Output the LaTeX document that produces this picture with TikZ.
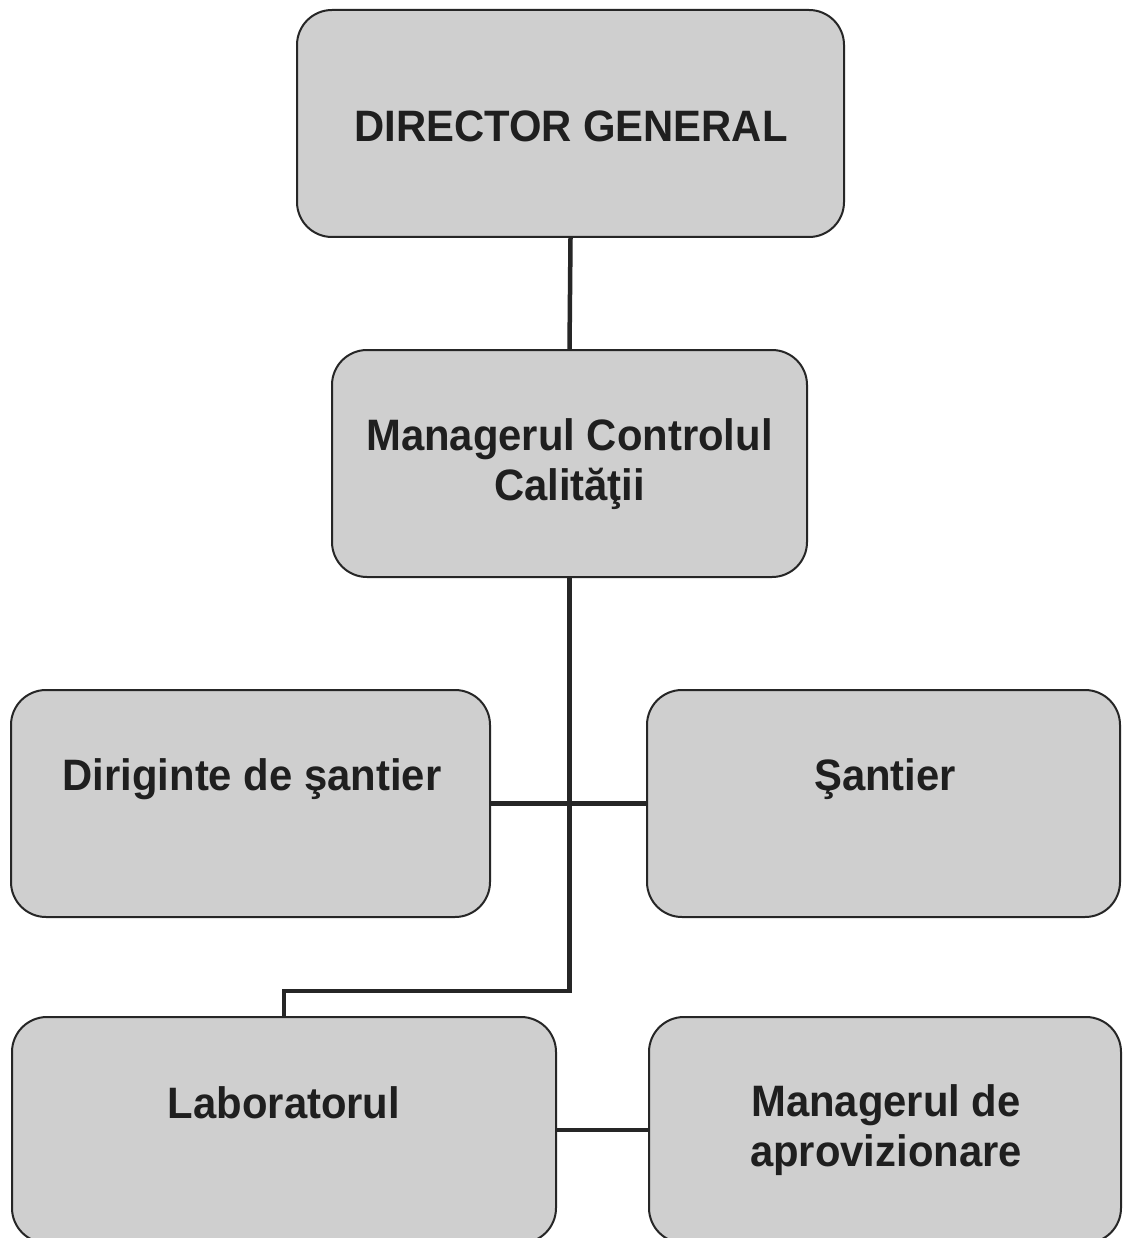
\documentclass[tikz,border=0pt]{standalone}
\usepackage{fontspec}
\setmainfont{Liberation Sans}
\newfontfamily\lblfont[FakeStretch=0.95]{Liberation Sans}
\begin{document}
\begin{tikzpicture}[x=1pt,y=-1pt,
  box/.style={draw=black!85, line width=2pt, fill=black!19, rounded corners=35pt, inner sep=0pt},
  lbl/.style={font=\lblfont\fontsize{44}{49.5}\selectfont\bfseries, text=black!88, align=center, anchor=base, inner sep=0pt},
  conn/.style={line width=4.5pt, draw=black!85}]
\useasboundingbox (0,0) rectangle (1122,1238);
\clip (0,0) rectangle (1122,1238);
\fill[white] (0,0) rectangle (1122,1238);

\node[box, minimum width=547pt, minimum height=227pt] (dg)  at (570.5,123.5) {};
\node[box, minimum width=475pt, minimum height=227pt] (mcc) at (569.5,463.5) {};
\node[box, minimum width=479pt, minimum height=227pt] (ds)  at (250.5,803.5) {};
\node[box, minimum width=473pt, minimum height=227pt] (st)  at (883.5,803.5) {};
\node[box, minimum width=544pt, minimum height=226pt] (lab) at (284,1130) {};
\node[box, minimum width=472pt, minimum height=226pt] (ma)  at (885,1130) {};

% anchor=base of a multi-line node is the baseline of its last line
\node[lbl] (tdg)  at (571,142)  {DIRECTOR GENERAL};
\node[lbl] (tmcc) at (569.5,500) {Managerul Controlul\\Calităţii};
\node[lbl] (tds)  at (252,790)  {Diriginte de şantier};
\node[lbl] (tst)  at (885,790)  {Şantier};
\node[lbl] (tlab) at (284,1118) {Laboratorul};
\node[lbl] (tma)  at (886,1166) {Managerul de\\aprovizionare};

\coordinate (j) at (569.5,991);
\draw[conn] (dg.south) -- (mcc.north);
\draw[conn] (mcc.south) -- (j) -| (lab.north);
\draw[conn] (ds.east) -- (st.west);
\draw[conn] (lab.east) -- (ma.west);
\end{tikzpicture}
\end{document}
